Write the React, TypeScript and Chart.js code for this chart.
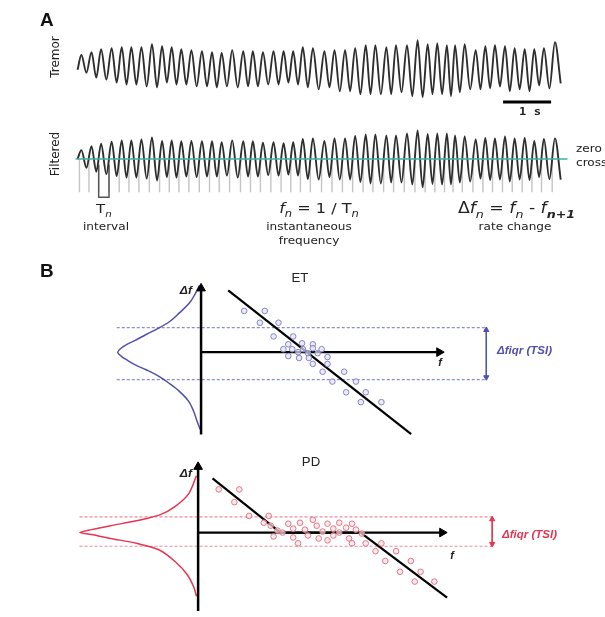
import React, { useEffect, useRef } from "react";
import { Chart, registerables } from "chart.js";

Chart.register(...registerables);

const W = 605;
const H = 617;

// ---------------- Panel A: tremor recording ----------------
// time of each tremor peak (s)
const PEAK_T = [0.08, 0.29, 0.49, 0.71, 0.92, 1.12, 1.33, 1.55, 1.76, 1.96, 2.16, 2.37, 2.59, 2.8, 3.0, 3.22, 3.45, 3.65, 3.86, 4.08, 4.29, 4.49, 4.69, 4.9, 5.14, 5.35, 5.57, 5.78, 6.0, 6.2, 6.43, 6.63, 6.86, 7.08, 7.29, 7.49, 7.69, 7.86, 8.06, 8.29, 8.49, 8.69, 8.9, 9.1, 9.31, 9.51, 9.71, 9.94];
// peak amplitude (a.u.)
const PEAK_A = [15, 18, 21, 22, 23, 23, 23, 26, 24, 23, 21, 20, 19, 18, 17, 20, 19, 19, 18, 19, 19, 19, 23, 22, 19, 20, 20, 22, 25, 25, 23, 25, 25, 30, 26, 27, 25, 25, 26, 20, 24, 25, 24, 22, 21, 21, 22, 28];
// trough amplitude between consecutive peaks (a.u.)
const TROUGH_A = [-3, -8, -10, -13, -15, -15, -17, -18, -13, -15, -15, -17, -17, -18, -17, -18, -17, -17, -15, -15, -13, -15, -18, -20, -18, -22, -22, -25, -25, -25, -25, -23, -27, -28, -25, -25, -27, -23, -20, -20, -19, -17, -22, -20, -22, -16, -19];
const TRACE_START = [0, 0]; // [t, a]
const TRACE_END = [10.06, -14];
const SCALE_BAR_T = [8.86, 9.86]; // 1 s
const SCALE_BAR_A = -33;
const INTERVAL_INDEX = 2; // highlighted T_n

// ---------------- Panel B: Δf vs f ----------------
const ET_F = [2.2, 3.25, 3.0, 3.95, 3.7, 4.7, 4.45, 5.15, 5.7, 4.2, 4.65, 5.2, 5.7, 6.15, 4.95, 5.45, 5.95, 4.45, 5.0, 5.5, 6.45, 5.7, 6.45, 6.2, 7.3, 6.7, 7.9, 7.4, 8.4, 8.15, 9.2];
const ET_DF = [2.1, 2.1, 1.5, 1.5, 0.8, 0.8, 0.4, 0.45, 0.4, 0.15, 0.15, 0.15, 0.2, 0.15, 0.0, -0.05, -0.05, -0.2, -0.3, -0.3, -0.25, -0.6, -0.6, -1.0, -1.0, -1.5, -1.5, -2.05, -2.05, -2.55, -2.55];
const ET_FIT_F = [1.385, 10.72];
const ET_FIT_DF = [3.15, -4.185];
const ET_IQR = [1.25, -1.4];
const ET_DIST_D = [0.02, 0.08, 0.14, 0.26, 0.38, 0.52, 0.66, 0.79, 0.89, 0.96, 1.0, 0.96, 0.89, 0.79, 0.66, 0.52, 0.38, 0.26, 0.15, 0.09, 0.05, 0.01];
const ET_DIST_DF = [3.4, 2.9, 2.5, 2.0, 1.55, 1.2, 0.9, 0.6, 0.4, 0.2, 0, -0.2, -0.4, -0.65, -0.9, -1.2, -1.6, -2.0, -2.5, -3.0, -3.5, -3.95];

const PD_F = [1.05, 2.1, 1.85, 2.6, 3.6, 3.35, 3.7, 4.05, 4.6, 4.85, 5.2, 5.45, 5.85, 6.05, 6.35, 6.6, 6.9, 7.2, 7.55, 7.85, 8.05, 3.85, 4.85, 5.1, 6.15, 6.9, 7.7, 7.85, 8.35, 4.3, 5.6, 7.2, 6.6, 8.55, 9.35, 9.05, 10.1, 9.55, 10.85, 10.3, 11.35, 11.05, 12.05];
const PD_DF = [2.2, 2.2, 1.55, 0.85, 0.85, 0.5, 0.35, 0.1, 0.45, 0.2, 0.5, 0.15, 0.65, 0.35, 0.05, 0.45, 0.2, 0.5, 0.25, 0.45, 0.15, -0.2, -0.25, -0.55, -0.3, -0.15, -0.3, -0.55, -0.05, 0.0, -0.15, 0.0, -0.4, -0.55, -0.55, -0.95, -0.95, -1.45, -1.45, -2.0, -2.0, -2.5, -2.5];
const PD_FIT_F = [0.735, 4.2, 8.285, 12.7];
const PD_FIT_DF = [2.765, 0, 0, -3.315];
const PD_IQR = [0.8, -0.7];
const PD_DIST_D = [0.02, 0.11, 0.27, 0.46, 0.74, 1.05, 1.28, 1.42, 1.28, 1.05, 0.74, 0.46, 0.27, 0.13, 0.05, 0.02];
const PD_DIST_DF = [2.9, 2.0, 1.35, 0.9, 0.6, 0.35, 0.15, 0, -0.1, -0.3, -0.55, -0.9, -1.5, -2.15, -2.8, -3.25];

// ---------------- layout (pixels) ----------------
const T0_PX = 73, PX_PER_S = 49;
const TREMOR_Y0 = 65, FILT_Y0 = 156;
const ET_O = [199, 353], PD_O = [196, 537];
const PX_PER_HZ = 20, PX_PER_DENS = 85;

const BLUE = "#5050ae";
const BLUE_L = "#8c8cd8";
const RED = "#e63650";
const RED_L = "#f08a98";

type P = { x: number; y: number | null };
const pts = (xs: number[], ys: number[]): P[] => xs.map((x, i) => ({ x, y: ys[i] }));

function buildTremor(): P[] {
  const out: P[] = [{ x: TRACE_START[0], y: TRACE_START[1] }];
  PEAK_T.forEach((t, i) => {
    out.push({ x: t, y: PEAK_A[i] });
    if (i < PEAK_T.length - 1) out.push({ x: (t + PEAK_T[i + 1]) / 2, y: TROUGH_A[i] });
  });
  out.push({ x: TRACE_END[0], y: TRACE_END[1] });
  return out;
}
function halfAmp(i: number) {
  const tr = i < TROUGH_A.length ? TROUGH_A[i] : TRACE_END[1];
  return (PEAK_A[i] - tr) / 2;
}
function buildFiltered(): P[] {
  const out: P[] = [{ x: TRACE_START[0], y: 0 }];
  PEAK_T.forEach((t, i) => {
    const h = halfAmp(i);
    out.push({ x: t, y: h });
    if (i < PEAK_T.length - 1) out.push({ x: (t + PEAK_T[i + 1]) / 2, y: -h });
  });
  out.push({ x: TRACE_END[0], y: -halfAmp(PEAK_T.length - 1) });
  return out;
}
function crossings(): number[] {
  return PEAK_T.map((t, i) => {
    const prev = i === 0 ? TRACE_START[0] : (PEAK_T[i - 1] + t) / 2;
    return (prev + t) / 2;
  });
}

type Run = { t: string; it?: boolean; b?: boolean; sub?: boolean };
function rich(ctx: CanvasRenderingContext2D, runs: Run[], x: number, y: number, size: number, align: "left" | "center" | "right", color: string, family = "DejaVu Sans", sx = 1.15) {
  const f = (r: Run) => `${r.it ? "italic " : ""}${r.b ? "bold " : ""}${r.sub ? Math.round(size * 0.72) : size}px "${family}"`;
  const ws = runs.map((r) => { ctx.font = f(r); return ctx.measureText(r.t).width; });
  const total = ws.reduce((a, b) => a + b, 0);
  ctx.save();
  ctx.translate(x, y);
  ctx.scale(sx, 1);
  ctx.fillStyle = color;
  ctx.textAlign = "left";
  ctx.textBaseline = "alphabetic";
  let cx = align === "center" ? -total / 2 : align === "right" ? -total : 0;
  runs.forEach((r, i) => {
    ctx.font = f(r);
    ctx.fillText(r.t, cx, r.sub ? size * 0.3 : 0);
    cx += ws[i];
  });
  ctx.restore();
}
function vtext(ctx: CanvasRenderingContext2D, s: string, x: number, y: number, size: number) {
  ctx.save();
  ctx.translate(x, y);
  ctx.rotate(-Math.PI / 2);
  ctx.font = `${size}px "DejaVu Sans"`;
  ctx.fillStyle = "#222";
  ctx.textAlign = "center";
  ctx.textBaseline = "middle";
  ctx.fillText(s, 0, 0);
  ctx.restore();
}

const labelPlugin = {
  id: "labels",
  afterDraw(chart: any) {
    const ctx: CanvasRenderingContext2D = chart.ctx;
    const ink = "#222";
    rich(ctx, [{ t: "A", b: true }], 40, 26, 18, "left", "#111", "Liberation Sans", 1.05);
    vtext(ctx, "Tremor", 56, 57, 12);
    vtext(ctx, "Filtered", 56, 154, 12);
    rich(ctx, [{ t: "1 s", b: true }], 530, 115, 11, "center", ink, "DejaVu Sans Mono", 1.1);
    rich(ctx, [{ t: "zero" }], 576, 152, 10.5, "left", ink);
    rich(ctx, [{ t: "crossings" }], 576, 166, 10.5, "left", ink);
    rich(ctx, [{ t: "T" }, { t: "n", it: true, sub: true }], 96, 213, 13, "left", ink);
    rich(ctx, [{ t: "interval" }], 106, 230, 10.5, "center", ink);
    rich(ctx, [{ t: "f", it: true }, { t: "n", it: true, sub: true }, { t: " = 1 / T" }, { t: "n", it: true, sub: true }], 319, 213, 14, "center", ink);
    rich(ctx, [{ t: "instantaneous" }], 309, 230, 10.5, "center", ink);
    rich(ctx, [{ t: "frequency" }], 309, 244, 10.5, "center", ink);
    rich(ctx, [{ t: "Δ" }, { t: "f", it: true }, { t: "n", it: true, sub: true }, { t: " = " }, { t: "f", it: true }, { t: "n", it: true, sub: true }, { t: " - " }, { t: "f", it: true }, { t: "n+1", it: true, b: true, sub: true }], 458, 213, 15, "left", ink);
    rich(ctx, [{ t: "rate change" }], 515, 230, 10.5, "center", ink);

    rich(ctx, [{ t: "B", b: true }], 40, 277, 18, "left", "#111", "Liberation Sans", 1.05);
    rich(ctx, [{ t: "ET" }], 300, 282, 12, "center", ink, "Liberation Sans", 1.1);
    rich(ctx, [{ t: "Δf", it: true, b: true }], 192, 294, 11, "right", ink, "Liberation Sans", 1.1);
    rich(ctx, [{ t: "f", it: true, b: true }], 440, 366, 10, "center", ink, "Liberation Sans", 1.1);
    rich(ctx, [{ t: "Δfiqr (TSI)", it: true, b: true }], 497, 354, 10, "left", BLUE, "Liberation Sans", 1.15);

    rich(ctx, [{ t: "PD" }], 311, 466, 12, "center", ink, "Liberation Sans", 1.1);
    rich(ctx, [{ t: "Δf", it: true, b: true }], 192, 477, 11, "right", ink, "Liberation Sans", 1.1);
    rich(ctx, [{ t: "f", it: true, b: true }], 452, 559, 10, "center", ink, "Liberation Sans", 1.1);
    rich(ctx, [{ t: "Δfiqr (TSI)", it: true, b: true }], 502, 538, 10, "left", RED, "Liberation Sans", 1.15);
  },
};

export default function App() {
  const ref = useRef<HTMLCanvasElement>(null);
  useEffect(() => {
    const canvas = ref.current;
    if (!canvas) return;
    const mk = (data: P[], xAxisID: string, yAxisID: string, o: any = {}) => ({
      data, xAxisID, yAxisID, borderColor: "#000", borderWidth: 1, pointRadius: 0, pointHoverRadius: 0,
      tension: 0, fill: false, spanGaps: false, ...o,
    });
    const arrow = (data: P[], xId: string, yId: string, radii: number[], rot: number[], color: string, width: number, order: number) =>
      mk(data, xId, yId, {
        borderColor: color, borderWidth: width, pointRadius: radii, pointStyle: "triangle", pointRotation: rot,
        pointBackgroundColor: color, pointBorderColor: color, pointBorderWidth: 1, order,
      });

    const zc = crossings();
    const zcData: P[] = [];
    zc.forEach((c) => { zcData.push({ x: c, y: 0 }, { x: c, y: -34 }, { x: c, y: null }); });
    const c1 = zc[INTERVAL_INDEX], c2 = zc[INTERVAL_INDEX + 1];

    const dashed = (yv: number, x0: number, x1: number, xId: string, yId: string, color: string) =>
      mk([{ x: x0, y: yv }, { x: x1, y: yv }], xId, yId, { borderColor: color, borderWidth: 1.1, borderDash: [3, 2], order: 15 });

    const pointsDs = (xs: number[], ys: number[], xId: string, yId: string, stroke: string, fillC: string) =>
      mk(pts(xs, ys), xId, yId, {
        showLine: false, pointRadius: 2.8, pointStyle: "circle", pointBorderColor: stroke, pointBackgroundColor: fillC,
        pointBorderWidth: 1, order: 1,
      });

    const datasets: any[] = [
      // Panel A
      mk(zcData, "xT", "yFi", { borderColor: "#c4c4c4", borderWidth: 1.4, order: 20 }),
      mk([{ x: c1, y: -6 }, { x: c1, y: -39 }, { x: c2, y: -39 }, { x: c2, y: -6 }], "xT", "yFi", { borderColor: "#555", borderWidth: 1.5, order: 19 }),
      mk(buildFiltered(), "xT", "yFi", { borderColor: "#2e2e2e", borderWidth: 1.9, cubicInterpolationMode: "monotone", order: 10 }),
      mk([{ x: -0.04, y: 0 }, { x: 10.2, y: 0 }], "xT", "yFi", { borderColor: "#3cb0a6", borderWidth: 1.6, order: 9 }),
      mk(buildTremor(), "xT", "yTr", { borderColor: "#2e2e2e", borderWidth: 1.9, cubicInterpolationMode: "monotone", order: 10 }),
      mk(SCALE_BAR_T.map((t) => ({ x: t, y: SCALE_BAR_A })), "xT", "yTr", { borderWidth: 3, order: 5 }),

      // ET
      dashed(ET_IQR[0], -4.3, 14.6, "xET", "yET", BLUE_L),
      dashed(ET_IQR[1], -4.3, 14.6, "xET", "yET", BLUE_L),
      arrow([{ x: 14.55, y: ET_IQR[0] - 0.12 }, { x: 14.55, y: ET_IQR[1] + 0.12 }], "xET", "yET", [3, 3], [0, 180], BLUE, 1, 14),
      mk(pts(ET_DIST_D, ET_DIST_DF), "xDE", "yET", { borderColor: BLUE, borderWidth: 1.5, tension: 0.35, order: 12 }),
      arrow([{ x: 0, y: -4.2 }, { x: 0, y: 3.25 }], "xET", "yET", [0, 5], [0, 0], "#000", 2.5, 8),
      arrow([{ x: 0, y: 0 }, { x: 12.15, y: 0 }], "xET", "yET", [0, 5], [0, 90], "#000", 2.2, 8),
      mk(pts(ET_FIT_F, ET_FIT_DF), "xET", "yET", { borderWidth: 2.2, order: 7 }),
      pointsDs(ET_F, ET_DF, "xET", "yET", "#8585c4", "rgba(225,225,245,0.7)"),

      // PD
      dashed(PD_IQR[0], -6.05, 15.05, "xPD", "yPD", RED_L),
      dashed(PD_IQR[1], -6.05, 15.05, "xPD", "yPD", RED_L),
      arrow([{ x: 15.0, y: PD_IQR[0] - 0.12 }, { x: 15.0, y: PD_IQR[1] + 0.12 }], "xPD", "yPD", [3, 3], [0, 180], RED, 1, 14),
      mk(pts(PD_DIST_D, PD_DIST_DF), "xDP", "yPD", { borderColor: RED, borderWidth: 1.5, tension: 0.3, order: 12 }),
      arrow([{ x: 0, y: -4.6 }, { x: 0, y: 3.35 }], "xPD", "yPD", [0, 5], [0, 0], "#000", 2.5, 8),
      arrow([{ x: 0, y: 0 }, { x: 12.45, y: 0 }], "xPD", "yPD", [0, 5], [0, 90], "#000", 2.2, 8),
      mk(pts(PD_FIT_F, PD_FIT_DF), "xPD", "yPD", { borderWidth: 2.2, order: 7 }),
      pointsDs(PD_F, PD_DF, "xPD", "yPD", "#e37585", "rgba(252,225,230,0.7)"),
    ];

    const lin = (axis: "x" | "y", min: number, max: number, reverse = false) => ({
      type: "linear", axis, display: false, min, max, reverse, grace: 0,
    });

    const chart = new Chart(canvas, {
      type: "line",
      data: { datasets },
      options: {
        responsive: false,
        animation: false,
        devicePixelRatio: 1,
        events: [],
        layout: { padding: 0 },
        elements: { point: { radius: 0 } },
        plugins: { legend: { display: false }, tooltip: { enabled: false }, title: { display: false } },
        scales: {
          xT: lin("x", -T0_PX / PX_PER_S, (W - T0_PX) / PX_PER_S),
          yTr: lin("y", -(H - TREMOR_Y0), TREMOR_Y0),
          yFi: lin("y", -(H - FILT_Y0), FILT_Y0),
          xET: lin("x", -ET_O[0] / PX_PER_HZ, (W - ET_O[0]) / PX_PER_HZ),
          yET: lin("y", -(H - ET_O[1]) / PX_PER_HZ, ET_O[1] / PX_PER_HZ),
          xDE: lin("x", -(W - ET_O[0]) / PX_PER_DENS, ET_O[0] / PX_PER_DENS, true),
          xPD: lin("x", -PD_O[0] / PX_PER_HZ, (W - PD_O[0]) / PX_PER_HZ),
          yPD: lin("y", -(H - PD_O[1]) / PX_PER_HZ, PD_O[1] / PX_PER_HZ),
          xDP: lin("x", -(W - PD_O[0]) / PX_PER_DENS, PD_O[0] / PX_PER_DENS, true),
        } as any,
      },
      plugins: [labelPlugin],
    } as any);
    return () => chart.destroy();
  }, []);

  return (
    <div style={{ position: "absolute", left: 0, top: 0, width: W, height: H, background: "#fff", overflow: "hidden" }}>
      <canvas ref={ref} width={W} height={H} style={{ display: "block", width: W, height: H }} />
    </div>
  );
}
